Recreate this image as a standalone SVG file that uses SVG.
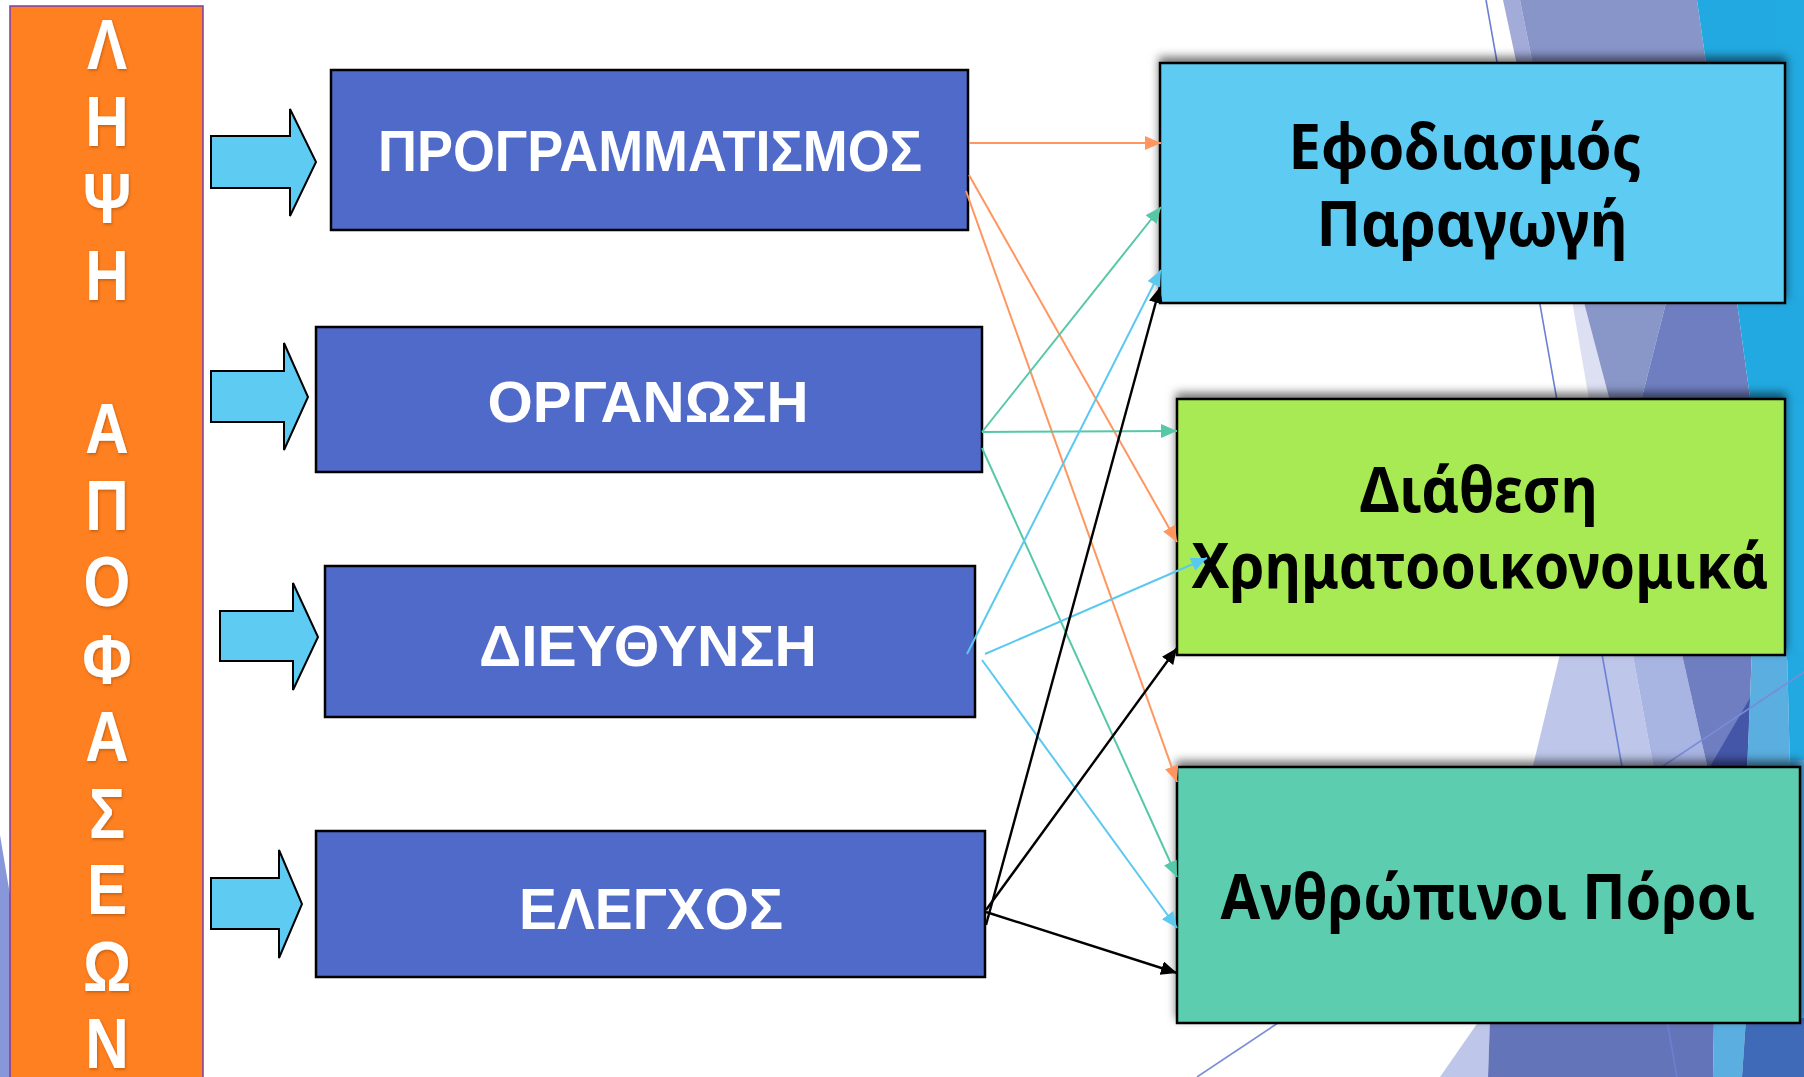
<svg xmlns="http://www.w3.org/2000/svg" width="1804" height="1077" viewBox="0 0 1804 1077">
<defs>
<style>
.bar{fill:#FE8020;stroke:#7A3CB0;stroke-width:1.5}
.vl{font-family:"Liberation Sans",Arial,sans-serif;font-weight:bold;font-size:70px;fill:#fff;text-anchor:middle}
.blk{fill:#5DCBF2;stroke:#000;stroke-width:2}
.lbox{fill:#4F6AC9;stroke:#000;stroke-width:2.5}
.ltx{font-family:"Liberation Sans",Arial,sans-serif;font-weight:bold;font-size:58px;fill:#fff;text-anchor:middle}
.rbox{stroke:#000;stroke-width:2.5}
.rtx{font-family:"Noto Sans","Open Sans",sans-serif;font-weight:bold;font-size:62px;fill:#000;text-anchor:middle}
.c{fill:none;stroke-width:2}
.or{stroke:#FF9660}
.te{stroke:#55C8A8}
.bl{stroke:#5BC8F0}
.bk{stroke:#000;stroke-width:2.4}
</style>
<filter id="sh" x="-10%" y="-20%" width="120%" height="140%">
<feDropShadow dx="0" dy="-5" stdDeviation="5" flood-color="#000" flood-opacity="0.55"/>
</filter>
<filter id="tsh" x="-30%" y="-30%" width="160%" height="160%">
<feDropShadow dx="1" dy="1.5" stdDeviation="1.5" flood-color="#8a3a00" flood-opacity="0.5"/>
</filter>
<marker id="mo" markerUnits="userSpaceOnUse" markerWidth="18" markerHeight="16" refX="16" refY="7" orient="auto"><path d="M0,0 L16,7 L0,14 z" fill="#FF9660"/></marker>
<marker id="mt" markerUnits="userSpaceOnUse" markerWidth="18" markerHeight="16" refX="16" refY="7" orient="auto"><path d="M0,0 L16,7 L0,14 z" fill="#55C8A8"/></marker>
<marker id="mb" markerUnits="userSpaceOnUse" markerWidth="18" markerHeight="16" refX="16" refY="7" orient="auto"><path d="M0,0 L16,7 L0,14 z" fill="#5BC8F0"/></marker>
<marker id="mk" markerUnits="userSpaceOnUse" markerWidth="18" markerHeight="16" refX="16" refY="7" orient="auto"><path d="M0,0 L16,7 L0,14 z" fill="#000"/></marker>
</defs>

<rect x="0" y="0" width="1804" height="1077" fill="#fff"/>

<g id="background">
<polygon points="0,835 10,895 10,1077 0,1077" fill="#8797D9"/>
<polygon points="1503,0 1520,0 1534,70 1518,70" fill="#A3ABD9"/>
<polygon points="1520,0 1697,0 1707,70 1534,70" fill="#8795C9"/>
<polygon points="1697,0 1804,0 1804,70 1707,70" fill="#22A9E1"/>
<rect x="1776" y="0" width="28" height="660" fill="#22AAE2"/>
<polygon points="1571,295 1582,295 1611,405 1590,405" fill="#DCE0F2"/>
<polygon points="1582,295 1668,295 1640,405 1611,405" fill="#8896C8"/>
<polygon points="1668,295 1736,295 1751,405 1640,405" fill="#6E7EC0"/>
<polygon points="1736,295 1804,295 1804,405 1751,405" fill="#22A9E1"/>
<polygon points="1561,650 1632,650 1654,770 1532,770" fill="#BEC6EA"/>
<polygon points="1632,650 1681,650 1708,770 1654,770" fill="#A8B4E2"/>
<polygon points="1681,650 1752,650 1747,770 1708,770" fill="#6E7EC0"/>
<polygon points="1750,698 1708,770 1747,770" fill="#4456A8"/>
<polygon points="1752,650 1787,650 1790,770 1747,770" fill="#5AAEE0"/>
<polygon points="1787,650 1804,650 1804,770 1790,770" fill="#22A9E1"/>
<rect x="1790" y="760" width="14" height="270" fill="#4EA8E0"/>
<polygon points="1481,1018 1490,1018 1488,1077 1440,1077" fill="#BEC6EA"/>
<polygon points="1490,1018 1714,1018 1713,1077 1488,1077" fill="#6474B8"/>
<polygon points="1714,1018 1746,1018 1742,1077 1713,1077" fill="#5AAEE0"/>
<polygon points="1746,1018 1804,1018 1804,1077 1742,1077" fill="#3E6AB8"/>
<line x1="1486" y1="0" x2="1677" y2="1077" stroke="#6B80D4" stroke-width="1.6"/>
<line x1="1197" y1="1077" x2="1804" y2="672" stroke="#7A8CD8" stroke-width="1.6"/>
</g>

<g id="decision-bar">
<rect class="bar" x="10" y="6" width="193" height="1080"/>
<g transform="translate(107,0) scale(0.86,1)" filter="url(#tsh)">
<text class="vl" x="0" y="69">Λ</text>
<text class="vl" x="0" y="146">Η</text>
<text class="vl" x="0" y="223">Ψ</text>
<text class="vl" x="0" y="300">Η</text>
<text class="vl" x="0" y="453">Α</text>
<text class="vl" x="0" y="530">Π</text>
<text class="vl" x="0" y="606">Ο</text>
<text class="vl" x="0" y="684">Φ</text>
<text class="vl" x="0" y="761">Α</text>
<text class="vl" x="0" y="838">Σ</text>
<text class="vl" x="0" y="914">Ε</text>
<text class="vl" x="0" y="991">Ω</text>
<text class="vl" x="0" y="1068">Ν</text>
</g>
</g>

<g id="block-arrows">
<polygon class="blk" points="211,136 290,136 290,109 316,162 290,216 290,188 211,188"/>
<polygon class="blk" points="211,371 284,371 284,343 308,397 284,450 284,422 211,422"/>
<polygon class="blk" points="220,611 293,611 293,583 318,637 293,690 293,661 220,661"/>
<polygon class="blk" points="211,878 279,878 279,850 302,904 279,958 279,929 211,929"/>
</g>

<g id="node-programmatismos">
<rect class="lbox" x="331" y="70" width="637" height="160"/>
<text class="ltx" x="650" y="171" textLength="544" lengthAdjust="spacingAndGlyphs">ΠΡΟΓΡΑΜΜΑΤΙΣΜΟΣ</text>
</g>
<g id="node-organosi">
<rect class="lbox" x="316" y="327" width="666" height="145"/>
<text class="ltx" x="648" y="422" textLength="321" lengthAdjust="spacingAndGlyphs">ΟΡΓΑΝΩΣΗ</text>
</g>
<g id="node-dieythynsi">
<rect class="lbox" x="325" y="566" width="650" height="151"/>
<text class="ltx" x="648" y="666" textLength="338" lengthAdjust="spacingAndGlyphs">ΔΙΕΥΘΥΝΣΗ</text>
</g>
<g id="node-elegxos">
<rect class="lbox" x="316" y="831" width="669" height="146"/>
<text class="ltx" x="651" y="929" textLength="264" lengthAdjust="spacingAndGlyphs">ΕΛΕΓΧΟΣ</text>
</g>

<g id="node-efodiasmos">
<rect class="rbox" x="1160" y="63" width="625" height="240" fill="#5DCBF2" filter="url(#sh)"/>
<text class="rtx" x="1465" y="169" textLength="353" lengthAdjust="spacingAndGlyphs">Εφοδιασμός</text>
<text class="rtx" x="1472" y="246" textLength="311" lengthAdjust="spacingAndGlyphs">Παραγωγή</text>
</g>
<g id="node-diathesi">
<rect class="rbox" x="1177" y="399" width="608" height="256" fill="#A8EA52" filter="url(#sh)"/>
<text class="rtx" x="1479" y="512" textLength="238" lengthAdjust="spacingAndGlyphs">Διάθεση</text>
<text class="rtx" x="1480" y="588" textLength="577" lengthAdjust="spacingAndGlyphs">Χρηματοοικονομικά</text>
</g>
<g id="node-anthropinoi">
<rect class="rbox" x="1177" y="767" width="623" height="256" fill="#5DCDB0" filter="url(#sh)"/>
<text class="rtx" x="1488" y="919" textLength="535" lengthAdjust="spacingAndGlyphs">Ανθρώπινοι Πόροι</text>
</g>

<g id="connectors">
<line class="c or" x1="969" y1="143" x2="1161" y2="143" marker-end="url(#mo)"/>
<line class="c or" x1="969" y1="175" x2="1177" y2="542" marker-end="url(#mo)"/>
<line class="c or" x1="966" y1="191" x2="1177" y2="782" marker-end="url(#mo)"/>
<line class="c te" x1="982" y1="432" x2="1161" y2="207" marker-end="url(#mt)"/>
<line class="c te" x1="982" y1="432" x2="1177" y2="431" marker-end="url(#mt)"/>
<line class="c te" x1="982" y1="448" x2="1177" y2="877" marker-end="url(#mt)"/>
<line class="c bl" x1="967" y1="654" x2="1161" y2="270" marker-end="url(#mb)"/>
<line class="c bl" x1="985" y1="654" x2="1207" y2="558" marker-end="url(#mb)"/>
<line class="c bl" x1="982" y1="660" x2="1177" y2="928" marker-end="url(#mb)"/>
<line class="c bk" x1="986" y1="925" x2="1160" y2="287" marker-end="url(#mk)"/>
<line class="c bk" x1="986" y1="910" x2="1177" y2="648" marker-end="url(#mk)"/>
<line class="c bk" x1="986" y1="912" x2="1177" y2="973" marker-end="url(#mk)"/>
</g>
</svg>
